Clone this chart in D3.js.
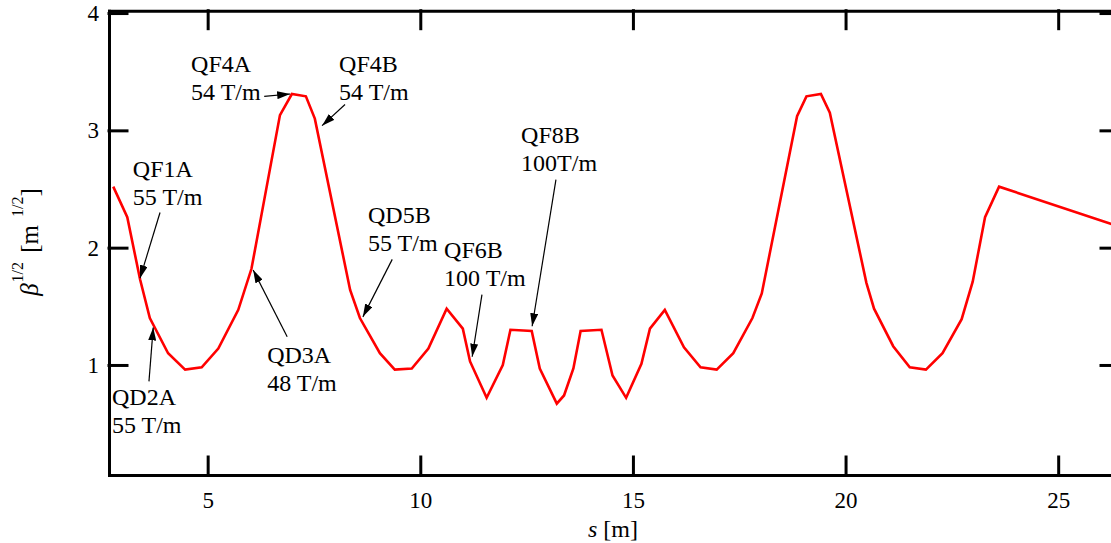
<!DOCTYPE html>
<html>
<head>
<meta charset="utf-8">
<script src="https://d3js.org/d3.v7.min.js"></script>
<style>
  body { margin: 0; background: #fff; }
  svg text { font-family: "Liberation Serif", "Times New Roman", serif; fill: #000; }
  .axis path, .axis line { stroke: #000; stroke-width: 3; stroke-linecap: square; }
  .axis text { font-size: 23px; }
  .note { font-size: 24px; }
</style>
</head>
<body>
<svg id="chart" width="1111" height="543"></svg>
<script>
// position along the beamline s [m]
var sVals = [2.78, 3.11, 3.41, 3.64, 4.07, 4.47, 4.86, 5.25, 5.72, 6.03, 6.70, 6.98, 7.31, 7.52,
  8.35, 8.58, 9.05, 9.40, 9.80, 10.19, 10.62, 11.00, 11.17, 11.56, 11.94, 12.12, 12.62, 12.81,
  13.21, 13.38, 13.60, 13.77, 14.26, 14.52, 14.84, 15.20, 15.40, 15.75, 16.20, 16.59, 16.97,
  17.36, 17.81, 18.03, 18.86, 19.08, 19.42, 19.63, 20.49, 20.67, 21.12, 21.51, 21.89, 22.28,
  22.73, 22.99, 23.28, 23.61, 26.43];
// sqrt(beta) [m^1/2]
var betaVals = [2.52, 2.26, 1.73, 1.40, 1.10, 0.96, 0.98, 1.14, 1.47, 1.82, 3.13, 3.31, 3.29, 3.10,
  1.64, 1.40, 1.10, 0.96, 0.97, 1.14, 1.48, 1.31, 1.03, 0.72, 1.00, 1.30, 1.29, 0.97,
  0.67, 0.74, 0.97, 1.29, 1.30, 0.91, 0.72, 1.01, 1.31, 1.47, 1.15, 0.98, 0.96,
  1.10, 1.40, 1.61, 3.12, 3.29, 3.31, 3.15, 1.70, 1.48, 1.16, 0.98, 0.96, 1.10,
  1.39, 1.71, 2.26, 2.52, 2.18];

var xTicks = [5, 10, 15, 20, 25];
var yTicks = [1, 2, 3, 4];

// quadrupole labels
var magnetNames = ["QF4A", "QF4B", "QF1A", "QD2A", "QD3A", "QD5B", "QF6B", "QF8B"];
var gradients = ["54 T/m", "54 T/m", "55 T/m", "55 T/m", "48 T/m", "55 T/m", "100 T/m", "100T/m"];
// label anchor [s, beta] and arrow tail/head [s, beta]
var labelAt = [[4.61, 3.50], [8.09, 3.50], [3.24, 2.60], [2.75, 0.66], [6.40, 1.02], [8.77, 2.21], [10.56, 1.91], [12.37, 2.89]];
var arrowTail = [[6.33, 3.29], [8.23, 3.22], [3.88, 2.30], [3.62, 0.86], [6.87, 1.24], [9.34, 1.90], [11.45, 1.60], [13.19, 2.58]];
var arrowHead = [[6.94, 3.31], [7.69, 3.04], [3.41, 1.74], [3.72, 1.32], [6.07, 1.81], [8.65, 1.41], [11.22, 1.07], [12.63, 1.33]];

var svg = d3.select("#chart");
var plotLeft = 109, plotRight = 1119, plotTop = 10.7, plotBottom = 475;

var x = d3.scaleLinear().domain([2.68, 26.43]).range([plotLeft, plotRight]);
var y = d3.scaleLinear().domain([0.062, 4.02]).range([plotBottom, plotTop]);

var defs = svg.append("defs");
defs.append("clipPath").attr("id", "plotclip")
  .append("rect").attr("x", plotLeft).attr("y", plotTop)
  .attr("width", plotRight - plotLeft).attr("height", plotBottom - plotTop);

defs.append("marker")
  .attr("id", "head")
  .attr("markerUnits", "userSpaceOnUse")
  .attr("markerWidth", 14).attr("markerHeight", 8)
  .attr("refX", 13).attr("refY", 4)
  .attr("orient", "auto")
  .append("path").attr("d", "M0,0 L13,4 L0,8 Z").attr("fill", "#000");

// axes, ticks pointing inward on all four sides
svg.append("g").attr("class", "axis")
  .attr("transform", "translate(0," + plotBottom + ")")
  .call(d3.axisBottom(x).tickValues(xTicks).tickSizeInner(-18).tickSizeOuter(0).tickPadding(17));
svg.append("g").attr("class", "axis")
  .attr("transform", "translate(0," + plotTop + ")")
  .call(d3.axisTop(x).tickValues(xTicks).tickSizeInner(-18).tickSizeOuter(0).tickFormat(""));
svg.append("g").attr("class", "axis")
  .attr("transform", "translate(" + plotLeft + ",0)")
  .call(d3.axisLeft(y).tickValues(yTicks).tickSizeInner(-18).tickSizeOuter(0).tickPadding(10)
    .tickFormat(d3.format("d")));
svg.append("g").attr("class", "axis")
  .attr("transform", "translate(" + plotRight + ",0)")
  .call(d3.axisRight(y).tickValues(yTicks).tickSizeInner(-18).tickSizeOuter(0).tickFormat(""));
svg.selectAll(".axis").attr("font-family", null).attr("font-size", null);

// curve
var pts = sVals.map(function(s, i) { return [s, betaVals[i]]; });
var line = d3.line().x(function(d) { return x(d[0]); }).y(function(d) { return y(d[1]); });
svg.append("path")
  .datum(pts)
  .attr("clip-path", "url(#plotclip)")
  .attr("d", line)
  .attr("fill", "none")
  .attr("stroke", "#ff0000")
  .attr("stroke-width", 2.6)
  .attr("stroke-linejoin", "miter");

// annotations
magnetNames.forEach(function(name, i) {
  var t = svg.append("text").attr("class", "note")
    .attr("x", x(labelAt[i][0])).attr("y", y(labelAt[i][1]));
  t.append("tspan").attr("x", x(labelAt[i][0])).text(name);
  t.append("tspan").attr("x", x(labelAt[i][0])).attr("dy", 28).text(gradients[i]);
  svg.append("line")
    .attr("x1", x(arrowTail[i][0])).attr("y1", y(arrowTail[i][1]))
    .attr("x2", x(arrowHead[i][0])).attr("y2", y(arrowHead[i][1]))
    .attr("stroke", "#000").attr("stroke-width", 1.2)
    .attr("marker-end", "url(#head)");
});

// axis titles
var xt = svg.append("text").attr("x", 613).attr("y", 537)
  .attr("text-anchor", "middle").attr("font-size", 24);
xt.append("tspan").attr("font-style", "italic").text("s");
xt.append("tspan").text(" [m]");

var yt = svg.append("text")
  .attr("transform", "translate(38,242) rotate(-90)")
  .attr("text-anchor", "middle").attr("font-size", 25);
yt.append("tspan").attr("font-style", "italic").text("β");
yt.append("tspan").attr("font-size", 16).attr("dy", -15).attr("dx", 1).text("1/2");
yt.append("tspan").attr("dy", 15).attr("dx", 3).text(" [m");
yt.append("tspan").attr("font-size", 16).attr("dy", -15).attr("dx", 8).text("1/2");
yt.append("tspan").attr("dy", 15).text("]");
</script>
</body>
</html>
